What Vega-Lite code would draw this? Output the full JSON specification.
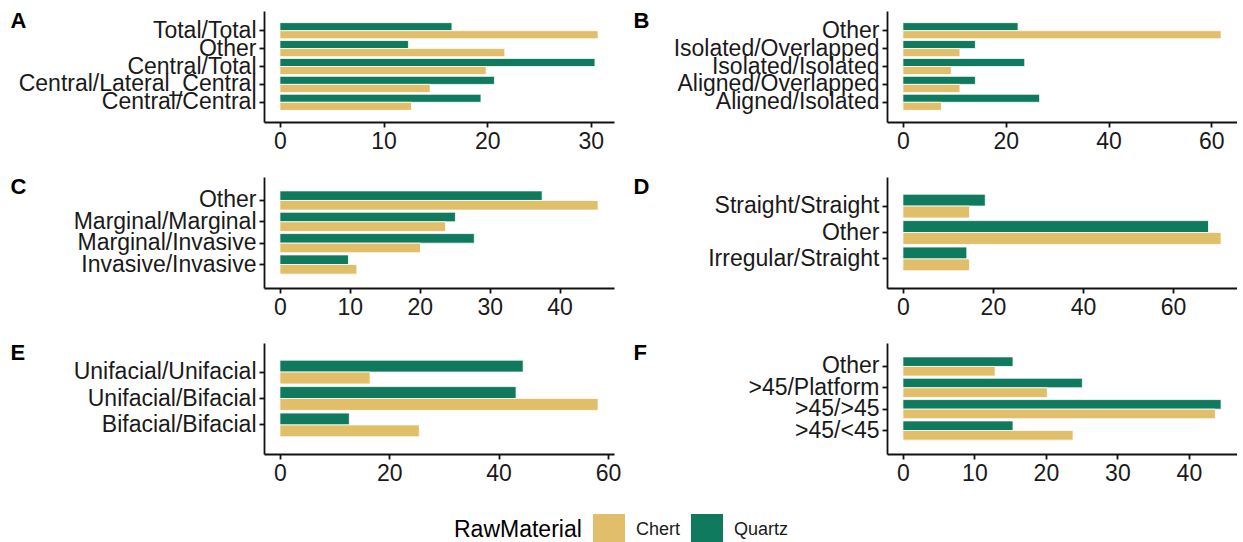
{
  "$schema": "https://vega.github.io/schema/vega-lite/v6.json",
  "background": "white",
  "padding": {"left": 10, "top": 9, "right": 0, "bottom": 0},
  "columns": 2,
  "spacing": {"row": 22, "column": 12},
  "data": {
    "values": [
      {"panel": "A", "category": "Total/Total", "material": "Quartz", "value": 16.6},
      {"panel": "A", "category": "Total/Total", "material": "Chert", "value": 30.7},
      {"panel": "A", "category": "Other", "material": "Quartz", "value": 12.4},
      {"panel": "A", "category": "Other", "material": "Chert", "value": 21.7},
      {"panel": "A", "category": "Central/Total", "material": "Quartz", "value": 30.4},
      {"panel": "A", "category": "Central/Total", "material": "Chert", "value": 19.9},
      {"panel": "A", "category": "Central/Lateral_Central", "material": "Quartz", "value": 20.7},
      {"panel": "A", "category": "Central/Lateral_Central", "material": "Chert", "value": 14.5},
      {"panel": "A", "category": "Central/Central", "material": "Quartz", "value": 19.4},
      {"panel": "A", "category": "Central/Central", "material": "Chert", "value": 12.7},

      {"panel": "B", "category": "Other", "material": "Quartz", "value": 22.4},
      {"panel": "B", "category": "Other", "material": "Chert", "value": 61.9},
      {"panel": "B", "category": "Isolated/Overlapped", "material": "Quartz", "value": 14.1},
      {"panel": "B", "category": "Isolated/Overlapped", "material": "Chert", "value": 11.1},
      {"panel": "B", "category": "Isolated/Isolated", "material": "Quartz", "value": 23.7},
      {"panel": "B", "category": "Isolated/Isolated", "material": "Chert", "value": 9.4},
      {"panel": "B", "category": "Aligned/Overlapped", "material": "Quartz", "value": 14.1},
      {"panel": "B", "category": "Aligned/Overlapped", "material": "Chert", "value": 11.1},
      {"panel": "B", "category": "Aligned/Isolated", "material": "Quartz", "value": 26.6},
      {"panel": "B", "category": "Aligned/Isolated", "material": "Chert", "value": 7.5},

      {"panel": "C", "category": "Other", "material": "Quartz", "value": 37.5},
      {"panel": "C", "category": "Other", "material": "Chert", "value": 45.5},
      {"panel": "C", "category": "Marginal/Marginal", "material": "Quartz", "value": 25.1},
      {"panel": "C", "category": "Marginal/Marginal", "material": "Chert", "value": 23.7},
      {"panel": "C", "category": "Marginal/Invasive", "material": "Quartz", "value": 27.8},
      {"panel": "C", "category": "Marginal/Invasive", "material": "Chert", "value": 20.1},
      {"panel": "C", "category": "Invasive/Invasive", "material": "Quartz", "value": 9.8},
      {"panel": "C", "category": "Invasive/Invasive", "material": "Chert", "value": 11.0},

      {"panel": "D", "category": "Straight/Straight", "material": "Quartz", "value": 18.3},
      {"panel": "D", "category": "Straight/Straight", "material": "Chert", "value": 14.8},
      {"panel": "D", "category": "Other", "material": "Quartz", "value": 67.9},
      {"panel": "D", "category": "Other", "material": "Chert", "value": 70.7},
      {"panel": "D", "category": "Irregular/Straight", "material": "Quartz", "value": 14.2},
      {"panel": "D", "category": "Irregular/Straight", "material": "Chert", "value": 14.8},

      {"panel": "E", "category": "Unifacial/Unifacial", "material": "Quartz", "value": 44.5},
      {"panel": "E", "category": "Unifacial/Unifacial", "material": "Chert", "value": 16.5},
      {"panel": "E", "category": "Unifacial/Bifacial", "material": "Quartz", "value": 43.2},
      {"panel": "E", "category": "Unifacial/Bifacial", "material": "Chert", "value": 58.2},
      {"panel": "E", "category": "Bifacial/Bifacial", "material": "Quartz", "value": 12.7},
      {"panel": "E", "category": "Bifacial/Bifacial", "material": "Chert", "value": 25.5},

      {"panel": "F", "category": "Other", "material": "Quartz", "value": 15.4},
      {"panel": "F", "category": "Other", "material": "Chert", "value": 12.9},
      {"panel": "F", "category": ">45/Platform", "material": "Quartz", "value": 25.1},
      {"panel": "F", "category": ">45/Platform", "material": "Chert", "value": 20.2},
      {"panel": "F", "category": ">45/>45", "material": "Quartz", "value": 44.5},
      {"panel": "F", "category": ">45/>45", "material": "Chert", "value": 43.7},
      {"panel": "F", "category": ">45/<45", "material": "Quartz", "value": 15.4},
      {"panel": "F", "category": ">45/<45", "material": "Chert", "value": 23.8}
    ]
  },
  "concat": [
    {
      "transform": [{"filter": "datum.panel === 'A'"}],
      "width": 350, "height": 111,
      "mark": {"type": "bar", "stroke": "white", "strokeWidth": 0.8},
      "encoding": {
        "y": {"field": "category", "type": "nominal", "sort": "descending", "scale": {"paddingInner": 0.1, "paddingOuter": 0.65}, "axis": {"title": "A"}},
        "yOffset": {"field": "material", "sort": ["Quartz", "Chert"]},
        "x": {"field": "value", "type": "quantitative", "scale": {"domain": [-1.535, 32.235], "nice": false, "zero": false}, "axis": {"values": [0, 10, 20, 30]}},
        "color": {"field": "material", "type": "nominal", "scale": {"domain": ["Chert", "Quartz"], "range": ["#E1BE6A", "#0F7A5E"]}, "title": "RawMaterial", "legend": {"orient": "none", "legendX": 190, "legendY": 503}}
      }
    },
    {
      "transform": [{"filter": "datum.panel === 'B'"}],
      "width": 350, "height": 111,
      "mark": {"type": "bar", "stroke": "white", "strokeWidth": 0.8},
      "encoding": {
        "y": {"field": "category", "type": "nominal", "sort": "descending", "scale": {"paddingInner": 0.1, "paddingOuter": 0.65}, "axis": {"title": "B"}},
        "yOffset": {"field": "material", "sort": ["Quartz", "Chert"]},
        "x": {"field": "value", "type": "quantitative", "scale": {"domain": [-3.095, 64.995], "nice": false, "zero": false}, "axis": {"values": [0, 20, 40, 60]}},
        "color": {"field": "material", "type": "nominal", "scale": {"domain": ["Chert", "Quartz"], "range": ["#E1BE6A", "#0F7A5E"]}, "title": "RawMaterial", "legend": {"orient": "none", "legendX": 190, "legendY": 503}}
      }
    },
    {
      "transform": [{"filter": "datum.panel === 'C'"}],
      "width": 350, "height": 111,
      "mark": {"type": "bar", "stroke": "white", "strokeWidth": 0.8},
      "encoding": {
        "y": {"field": "category", "type": "nominal", "sort": "descending", "scale": {"paddingInner": 0.1, "paddingOuter": 0.65}, "axis": {"title": "C"}},
        "yOffset": {"field": "material", "sort": ["Quartz", "Chert"]},
        "x": {"field": "value", "type": "quantitative", "scale": {"domain": [-2.275, 47.775], "nice": false, "zero": false}, "axis": {"values": [0, 10, 20, 30, 40]}},
        "color": {"field": "material", "type": "nominal", "scale": {"domain": ["Chert", "Quartz"], "range": ["#E1BE6A", "#0F7A5E"]}, "title": "RawMaterial", "legend": {"orient": "none", "legendX": 190, "legendY": 503}}
      }
    },
    {
      "transform": [{"filter": "datum.panel === 'D'"}],
      "width": 350, "height": 111,
      "mark": {"type": "bar", "stroke": "white", "strokeWidth": 0.8},
      "encoding": {
        "y": {"field": "category", "type": "nominal", "sort": "descending", "scale": {"paddingInner": 0.1, "paddingOuter": 0.65}, "axis": {"title": "D"}},
        "yOffset": {"field": "material", "sort": ["Quartz", "Chert"]},
        "x": {"field": "value", "type": "quantitative", "scale": {"domain": [-3.535, 74.235], "nice": false, "zero": false}, "axis": {"values": [0, 20, 40, 60]}},
        "color": {"field": "material", "type": "nominal", "scale": {"domain": ["Chert", "Quartz"], "range": ["#E1BE6A", "#0F7A5E"]}, "title": "RawMaterial", "legend": {"orient": "none", "legendX": 190, "legendY": 503}}
      }
    },
    {
      "transform": [{"filter": "datum.panel === 'E'"}],
      "width": 350, "height": 111,
      "mark": {"type": "bar", "stroke": "white", "strokeWidth": 0.8},
      "encoding": {
        "y": {"field": "category", "type": "nominal", "sort": "descending", "scale": {"paddingInner": 0.1, "paddingOuter": 0.65}, "axis": {"title": "E"}},
        "yOffset": {"field": "material", "sort": ["Quartz", "Chert"]},
        "x": {"field": "value", "type": "quantitative", "scale": {"domain": [-2.91, 61.11], "nice": false, "zero": false}, "axis": {"values": [0, 20, 40, 60]}},
        "color": {"field": "material", "type": "nominal", "scale": {"domain": ["Chert", "Quartz"], "range": ["#E1BE6A", "#0F7A5E"]}, "title": "RawMaterial", "legend": {"orient": "none", "legendX": 190, "legendY": 503}}
      }
    },
    {
      "transform": [{"filter": "datum.panel === 'F'"}],
      "width": 350, "height": 111,
      "mark": {"type": "bar", "stroke": "white", "strokeWidth": 0.8},
      "encoding": {
        "y": {"field": "category", "type": "nominal", "sort": "descending", "scale": {"paddingInner": 0.1, "paddingOuter": 0.65}, "axis": {"title": "F"}},
        "yOffset": {"field": "material", "sort": ["Quartz", "Chert"]},
        "x": {"field": "value", "type": "quantitative", "scale": {"domain": [-2.225, 46.725], "nice": false, "zero": false}, "axis": {"values": [0, 10, 20, 30, 40]}},
        "color": {"field": "material", "type": "nominal", "scale": {"domain": ["Chert", "Quartz"], "range": ["#E1BE6A", "#0F7A5E"]}, "title": "RawMaterial", "legend": {"orient": "none", "legendX": 190, "legendY": 503}}
      }
    }
  ],
  "resolve": {"scale": {"x": "independent", "y": "independent", "yOffset": "independent"}},
  "config": {
    "font": "Liberation Sans",
    "view": {"stroke": null},
    "axis": {
      "grid": false,
      "domainColor": "#111111",
      "domainWidth": 1.8,
      "tickColor": "#111111",
      "tickWidth": 1.8,
      "tickSize": 5,
      "labelFont": "Liberation Sans",
      "labelFontSize": 23,
      "labelColor": "#1a1a1a",
      "labelPadding": 3,
      "labelLimit": 0
    },
    "axisX": {"title": null, "labelFlush": false},
    "axisY": {
      "titleX": -254,
      "titleY": 9,
      "titleAngle": 0,
      "titleAlign": "left",
      "titleBaseline": "middle",
      "titleFont": "Liberation Sans",
      "titleFontWeight": "bold",
      "titleFontSize": 22,
      "titleColor": "#000000",
      "labelPadding": 3,
      "labelOverlap": false
    },
    "legend": {
      "direction": "horizontal",
      "titleOrient": "left",
      "titleFont": "Liberation Sans",
      "titleFontSize": 23,
      "titleFontWeight": "normal",
      "titleColor": "#000000",
      "titlePadding": 11,
      "labelFont": "Liberation Sans",
      "labelFontSize": 18,
      "labelColor": "#1a1a1a",
      "labelOffset": 11,
      "symbolType": "square",
      "symbolSize": 1024,
      "symbolStrokeWidth": 0,
      "symbolOpacity": 1,
      "columnPadding": 10
    }
  }
}
